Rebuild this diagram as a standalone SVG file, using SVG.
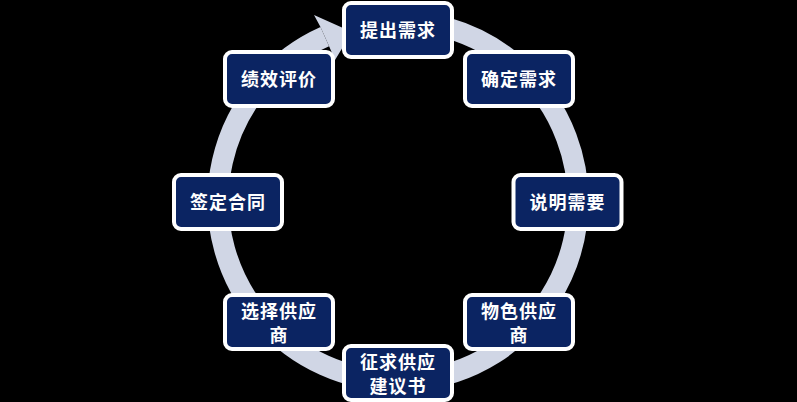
<svg xmlns="http://www.w3.org/2000/svg" width="797" height="402" viewBox="0 0 797 402">
<style>
.box{fill:#0b2462;stroke:#ffffff;stroke-width:4}
.lbl{fill:#ffffff;font-family:"Noto Sans CJK SC","Noto Sans",sans-serif;font-size:18px;font-weight:700;letter-spacing:1px;text-anchor:middle;dominant-baseline:central}
.ring{fill:none;stroke:#d0d6e5;stroke-width:21}
.head{fill:#d0d6e5}
</style>
<rect x="0" y="0" width="797" height="402" fill="#000000"/>
<g id="connectors">
<path class="ring" d="M 447.6 28 A 180 180 0 1 1 324.8 36.6"/>
<polygon class="head" points="320.5,27 314,15 352,32 335,60 329.1,46.2"/>
</g>
<g id="n1"><rect class="box" x="344" y="3" width="108" height="54" rx="7"/><text class="lbl" x="398" y="29">提出需求</text></g>
<g id="n2"><rect class="box" x="465" y="52" width="108" height="54" rx="7"/><text class="lbl" x="519" y="78">确定需求</text></g>
<g id="n3"><rect class="box" x="513.5" y="175" width="108" height="54" rx="7"/><text class="lbl" x="567.5" y="201">说明需要</text></g>
<g id="n4"><rect class="box" x="465" y="295" width="108" height="54" rx="7"/><text class="lbl" x="519" y="310">物色供应</text><text class="lbl" x="519" y="334">商</text></g>
<g id="n5"><rect class="box" x="344" y="346" width="108" height="54" rx="7"/><text class="lbl" x="398" y="361">征求供应</text><text class="lbl" x="398" y="385">建议书</text></g>
<g id="n6"><rect class="box" x="225" y="295" width="108" height="54" rx="7"/><text class="lbl" x="279" y="310">选择供应</text><text class="lbl" x="279" y="334">商</text></g>
<g id="n7"><rect class="box" x="174" y="175" width="108" height="54" rx="7"/><text class="lbl" x="228" y="201">签定合同</text></g>
<g id="n8"><rect class="box" x="225" y="52" width="108" height="54" rx="7"/><text class="lbl" x="279" y="78">绩效评价</text></g>
</svg>
